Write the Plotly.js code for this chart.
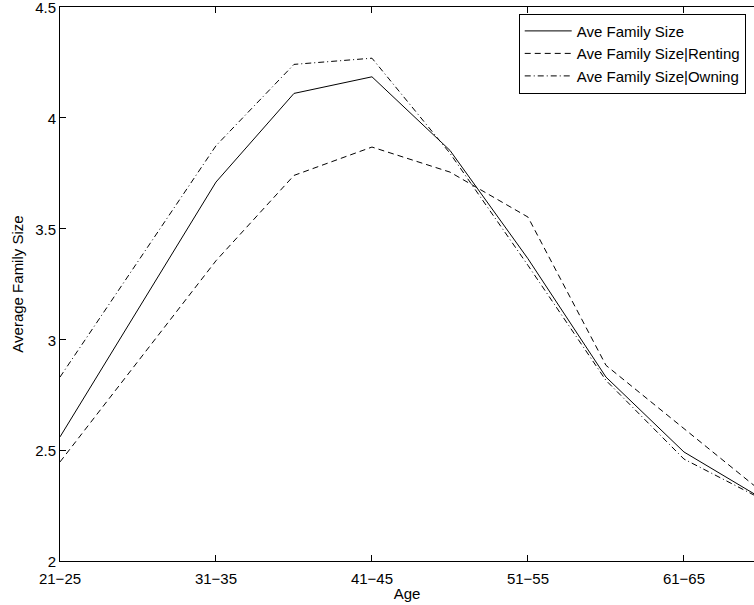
<!DOCTYPE html>
<html>
<head>
<meta charset="utf-8">
<script src="https://cdn.plot.ly/plotly-3.0.1.min.js"></script>
<style>html,body{margin:0;padding:0;background:#fff;}#chart{width:754px;height:605px;}</style>
</head>
<body>
<div id="chart"></div>
<script>
// Age group midpoints (years)
const ageMid = [23, 33, 38, 43, 48, 53, 58, 63, 68];
const tickAges = [23, 33, 43, 53, 63];
const tickLabels = ["21\u221225", "31\u221235", "41\u221245", "51\u221255", "61\u221265"];

const aveFamilySize = [2.56, 3.71, 4.11, 4.185, 3.853, 3.364, 2.83, 2.492, 2.282];
const aveRenting    = [2.447, 3.355, 3.74, 3.868, 3.755, 3.552, 2.883, 2.597, 2.312];
const aveOwning     = [2.83, 3.874, 4.241, 4.269, 3.84, 3.334, 2.815, 2.46, 2.279];

const names = ["Ave Family Size", "Ave Family Size|Renting", "Ave Family Size|Owning"];

const base = {type: "scatter", mode: "lines", x: ageMid, hoverinfo: "skip"};
const traces = [
  Object.assign({}, base, {y: aveFamilySize, name: names[0], line: {color: "#000", width: 1, dash: "solid"}}),
  Object.assign({}, base, {y: aveRenting, name: names[1], line: {color: "#000", width: 1, dash: "6px,4px"}}),
  Object.assign({}, base, {y: aveOwning, name: names[2], line: {color: "#000", width: 1, dash: "6px,3px,1px,3px"}})
];

const font = {family: "Liberation Sans, Arial, sans-serif", size: 15, color: "#000"};
const legFont = {family: "Liberation Sans, Arial, sans-serif", size: 15, color: "#000"};

const layout = {
  width: 754, height: 605,
  margin: {l: 60, r: 0, t: 7, b: 44},
  paper_bgcolor: "#fff", plot_bgcolor: "#fff",
  font: font,
  showlegend: true,
  legend: {
    x: 0.661, y: 0.988, xanchor: "left", yanchor: "top",
    bgcolor: "#fff", bordercolor: "#000", borderwidth: 1,
    font: legFont, tracegroupgap: 0, itemwidth: 47
  },
  xaxis: {
    range: [23, 67.49],
    tickmode: "array", tickvals: tickAges, ticktext: tickLabels,
    ticks: "inside", ticklen: 6, tickcolor: "#000", tickwidth: 1,
    showline: true, linecolor: "#000", linewidth: 1, mirror: "ticks",
    showgrid: false, zeroline: false,
    tickfont: font, ticklabelstandoff: 4, ticklabeloverflow: "allow",
    title: {text: "Age", font: font, standoff: 2},
    automargin: false
  },
  yaxis: {
    range: [2, 4.5],
    tickvals: [2, 2.5, 3, 3.5, 4, 4.5],
    ticktext: ["2", "2.5", "3", "3.5", "4", "4.5"],
    ticks: "inside", ticklen: 6, tickcolor: "#000", tickwidth: 1,
    showline: true, linecolor: "#000", linewidth: 1, mirror: false,
    showgrid: false, zeroline: false,
    tickfont: font, ticklabeloverflow: "allow", ticklabelshift: 1,
    title: {text: "Average Family Size", font: font, standoff: 7},
    automargin: false
  },
  hovermode: false
};

Plotly.newPlot("chart", traces, layout, {displayModeBar: false, staticPlot: true});
</script>
</body>
</html>
